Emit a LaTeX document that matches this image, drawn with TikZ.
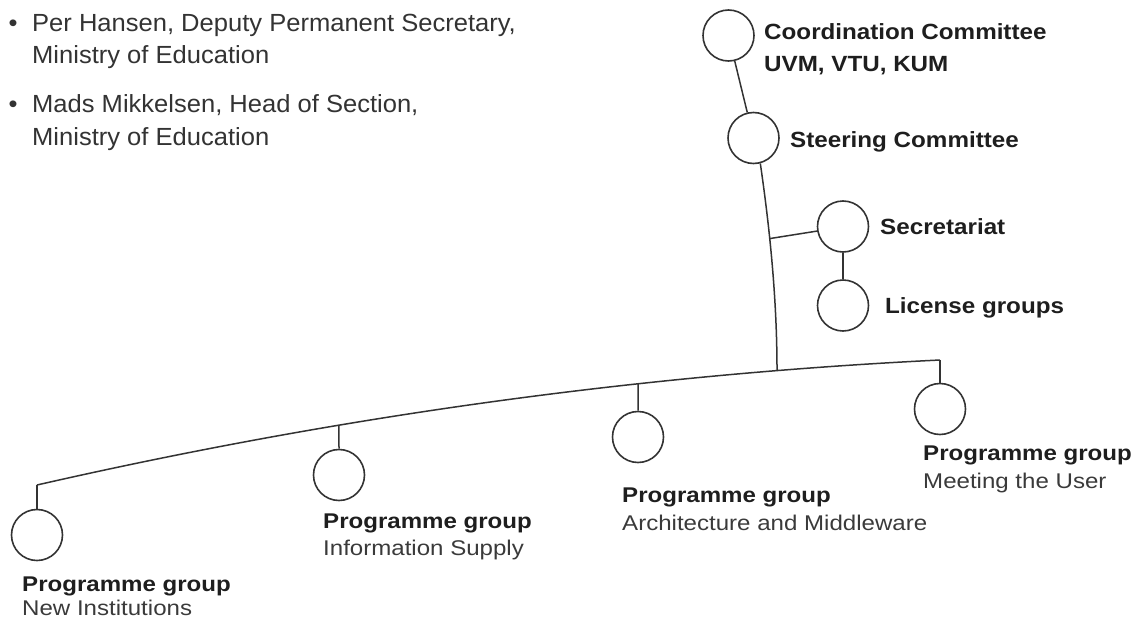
\documentclass[tikz,border=0pt]{standalone}
\usepackage{fontspec}
\setmainfont{Liberation Sans}
\newfontfamily\lblfont[FakeStretch=1.13]{Liberation Sans}
\newfontfamily\topfont[FakeStretch=1.10]{Liberation Sans}
\newfontfamily\bulfont[FakeStretch=1.03]{Liberation Sans}
\definecolor{ink}{HTML}{333333}
\definecolor{txt}{HTML}{1E1E1E}
\definecolor{soft}{HTML}{3A3A3A}
\begin{document}
\begin{tikzpicture}[x=1pt,y=-1pt,
  conn/.style={draw=ink, line width=1.5pt},
  circ/.style={circle, draw=ink, line width=1.6pt, minimum size=51pt, inner sep=0pt},
  toplbl/.style={anchor=base west, inner sep=0pt, font=\topfont\fontsize{22}{26}\selectfont\bfseries, text=txt},
  grphead/.style={anchor=base west, inner sep=0pt, font=\lblfont\fontsize{21.3}{26}\selectfont\bfseries, text=txt},
  grpname/.style={anchor=base west, inner sep=0pt, font=\lblfont\fontsize{21.3}{26}\selectfont, text=soft},
  bullettxt/.style={anchor=base west, inner sep=0pt, font=\bulfont\fontsize{24.8}{30}\selectfont, text=ink}]
\useasboundingbox (0,0) rectangle (1133,621);

% bullet list
\node[bullettxt, anchor=base] (d1) at (13,31) {•};
\node[bullettxt] (b1a) at (32,31) {Per Hansen, Deputy Permanent Secretary,};
\node[bullettxt] (b1b) at (32,63) {Ministry of Education};
\node[bullettxt, anchor=base] (d2) at (13,112) {•};
\node[bullettxt] (b2a) at (32,112) {Mads Mikkelsen, Head of Section,};
\node[bullettxt] (b2b) at (32,145) {Ministry of Education};

% circles
\node[circ] (cc)  at (728.5,35.5) {};
\node[circ] (sc)  at (753.5,138) {};
\node[circ] (sec) at (843,226.5) {};
\node[circ] (lic) at (843,305.5) {};
\node[circ] (ni)  at (37,535) {};
\node[circ] (is)  at (339,475) {};
\node[circ] (ar)  at (638,437) {};
\node[circ] (mu)  at (940,409) {};

% top labels
\node[toplbl] (ccA) at (764,39) {Coordination Committee};
\node[toplbl] (ccB) at (764,71) {UVM, VTU, KUM};
\node[toplbl] (scA) at (790,147) {Steering Committee};
\node[toplbl] (secA) at (880,234) {Secretariat};
\node[toplbl] (licA) at (885,313) {License groups};

% group labels
\node[grphead] (niA) at (22,591) {Programme group};
\node[grpname] (niB) at (22,615) {New Institutions};
\node[grphead] (isA) at (323,528) {Programme group};
\node[grpname] (isB) at (323,555) {Information Supply};
\node[grphead] (arA) at (622,502) {Programme group};
\node[grpname] (arB) at (622,530) {Architecture and Middleware};
\node[grphead] (muA) at (923,460) {Programme group};
\node[grpname] (muB) at (923,488) {Meeting the User};

% connectors
\coordinate (nitop) at (37,485);
\coordinate (mutop) at (940,360);
\draw[conn] (nitop) .. controls (338,416.3) and (639,374.7) .. (mutop)
  coordinate[pos=0.3344] (isj) coordinate[pos=0.6656] (arj) coordinate[pos=0.8195] (mainj);
\draw[conn] (cc) -- (sc);
\draw[conn] (sc.-75) .. controls (770,230) and (777,300) .. (mainj)
  coordinate[pos=0.37] (secj);
\draw[conn] (secj) -- (sec.190);
\draw[conn] (sec) -- (lic);
\draw[conn] (nitop) -- (ni.north);
\draw[conn] (isj) -- (is.north);
\draw[conn] (arj) -- (ar.north);
\draw[conn] (mutop) -- (mu.north);
\end{tikzpicture}
\end{document}
